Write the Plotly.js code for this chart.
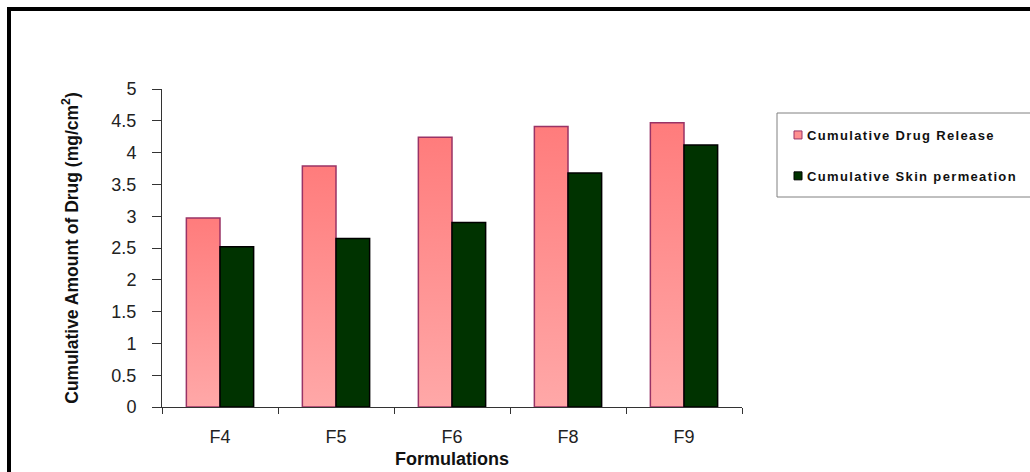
<!DOCTYPE html>
<html>
<head>
<meta charset="utf-8">
<script src="https://cdn.plot.ly/plotly-3.0.1.min.js"></script>
<style>
  html, body { margin: 0; padding: 0; background: #fff; }
  #chart { width: 1030px; height: 472px; }
  #chart .legendtext { letter-spacing: 1.35px; }
</style>
</head>
<body>
<div id="chart"></div>
<script>
var categories = ["F4", "F5", "F6", "F8", "F9"];
var drugRelease = [2.97, 3.79, 4.24, 4.41, 4.47];
var skinPermeation = [2.52, 2.65, 2.90, 3.68, 4.12];
var yTickVals = [0, 0.5, 1, 1.5, 2, 2.5, 3, 3.5, 4, 4.5, 5];
var yTickText = ["0", "0.5", "1", "1.5", "2", "2.5", "3", "3.5", "4", "4.5", "5"];

var FONT = "Liberation Sans, Arial, sans-serif";

var traces = [
  {
    type: "bar",
    name: "Cumulative Drug Release",
    x: categories,
    y: drugRelease,
    legendgroup: "a",
    marker: { color: "#FF9090", line: { color: "#993366", width: 1.5 } },
    hoverinfo: "x+y"
  },
  {
    type: "bar",
    name: "Cumulative Skin permeation",
    x: categories,
    y: skinPermeation,
    legendgroup: "b",
    marker: { color: "#003300", line: { color: "#000000", width: 1.5 } },
    hoverinfo: "x+y"
  }
];

// pixel helpers for paper coords (plot area: x 162..742, y 89..407)
var L = 162, R = 742, T = 89, B = 407;
function px(x) { return (x - L) / (R - L); }
function py(y) { return (B - y) / (B - T); }

var layout = {
  width: 1030,
  height: 472,
  margin: { l: L, r: 1030 - R, t: T, b: 472 - B, pad: 0 },
  paper_bgcolor: "#ffffff",
  plot_bgcolor: "#ffffff",
  font: { family: FONT, color: "#222222" },
  barmode: "group",
  bargap: 0.42,
  bargroupgap: 0,
  showlegend: true,
  legend: {
    x: px(767), y: py(120), xanchor: "left", yanchor: "top",
    bgcolor: "rgba(0,0,0,0)", borderwidth: 0,
    font: { family: FONT, size: 13, color: "#111111", weight: "bold" },
    tracegroupgap: 21,
    itemwidth: 30
  },
  xaxis: {
    type: "category",
    showline: true, linecolor: "#333333", linewidth: 1,
    ticks: "outside", tickson: "boundaries", ticklen: 6, tickcolor: "#333333",
    showgrid: false, zeroline: false,
    tickfont: { family: FONT, size: 18, color: "#222222" },
    ticklabelstandoff: 13,
    title: { text: "Formulations", font: { family: FONT, size: 18, color: "#111111", weight: "bold" }, standoff: 6 },
    automargin: false,
    fixedrange: true
  },
  yaxis: {
    range: [0, 5],
    tickvals: yTickVals, ticktext: yTickText,
    showline: true, linecolor: "#333333", linewidth: 1,
    ticks: "outside", ticklen: 9, tickcolor: "#333333",
    showgrid: false, zeroline: false,
    tickfont: { family: FONT, size: 18, color: "#222222" },
    ticklabelstandoff: 12,
    title: { text: "Cumulative Amount of Drug (mg/cm<sup>2</sup>)", font: { family: FONT, size: 17.5, color: "#111111", weight: "bold" }, standoff: 28 },
    automargin: false,
    fixedrange: true
  },
  shapes: [
    { type: "rect", xref: "paper", yref: "paper",
      x0: px(9), x1: px(1045), y0: py(490), y1: py(9),
      line: { color: "#000000", width: 4 }, fillcolor: "rgba(0,0,0,0)", layer: "above" },
    { type: "rect", xref: "paper", yref: "paper",
      x0: px(777), x1: px(1040), y0: py(197), y1: py(113),
      line: { color: "#808080", width: 1 }, fillcolor: "rgba(0,0,0,0)", layer: "above" }
  ]
};

Plotly.newPlot("chart", traces, layout, { staticPlot: true, displayModeBar: false }).then(function (gd) {
  // vertical gradient fill for the pink series (as in the original)
  var svg = gd.querySelector("svg.main-svg");
  var ns = "http://www.w3.org/2000/svg";
  var defs = svg.querySelector("defs") || svg.insertBefore(document.createElementNS(ns, "defs"), svg.firstChild);
  var grad = document.createElementNS(ns, "linearGradient");
  grad.setAttribute("id", "pinkGrad");
  grad.setAttribute("x1", "0"); grad.setAttribute("y1", "0");
  grad.setAttribute("x2", "0"); grad.setAttribute("y2", "1");
  [["0", "#FF7C7C"], ["1", "#FFA8A8"]].forEach(function (s) {
    var st = document.createElementNS(ns, "stop");
    st.setAttribute("offset", s[0]);
    st.setAttribute("stop-color", s[1]);
    grad.appendChild(st);
  });
  defs.appendChild(grad);
  var barTraces = gd.querySelectorAll(".barlayer .trace");
  if (barTraces.length) {
    barTraces[0].querySelectorAll("path").forEach(function (p) { p.style.fill = "url(#pinkGrad)"; });
  }
  // smaller legend swatches placed close to the text, as in the original
  gd.querySelectorAll(".legend .legendpoints path").forEach(function (p) {
    p.setAttribute("d", "M4,4H-4V-4H4Z");
    p.setAttribute("transform", "translate(31,0)");
    p.style.strokeWidth = "1px";
  });
  // let the letter-spaced legend text show in full
  gd.querySelectorAll(".legend [clip-path]").forEach(function (g) { g.removeAttribute("clip-path"); });
  gd.querySelectorAll(".legend").forEach(function (g) { g.removeAttribute("clip-path"); });
});
</script>
</body>
</html>
